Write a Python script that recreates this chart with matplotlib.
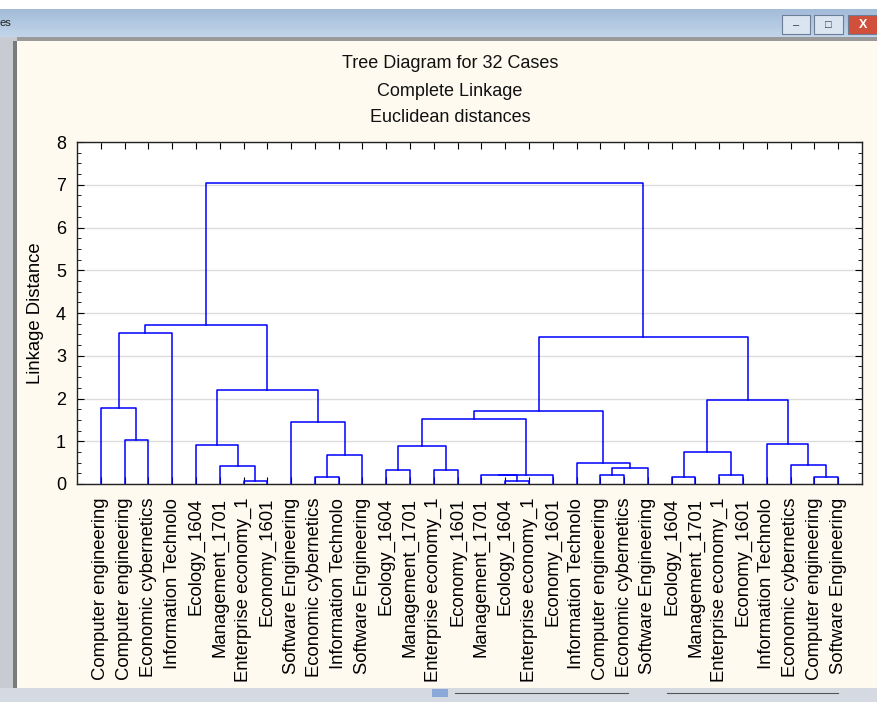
import numpy as np
import matplotlib.pyplot as plt
from matplotlib.patches import Rectangle
from matplotlib.ticker import MultipleLocator

plt.rcParams['font.family'] = ['Liberation Sans', 'DejaVu Sans']

labels = [
    'Computer engineering', 'Computer engineering', 'Economic cybernetics', 'Information Technolo',
    'Ecology_1604', 'Management_1701', 'Enterprise economy_1', 'Economy_1601',
    'Software Engineering', 'Economic cybernetics', 'Information Technolo', 'Software Engineering',
    'Ecology_1604', 'Management_1701', 'Enterprise economy_1', 'Economy_1601',
    'Management_1701', 'Ecology_1604', 'Enterprise economy_1', 'Economy_1601',
    'Information Technolo', 'Computer engineering', 'Economic cybernetics', 'Software Engineering',
    'Ecology_1604', 'Management_1701', 'Enterprise economy_1', 'Economy_1601',
    'Information Technolo', 'Economic cybernetics', 'Computer engineering', 'Software Engineering',
]

# merges: (left, right, linkage distance); ids >= 32 are earlier merges (32 + index)
merges = [
    (6, 7, 0.07),     # 32
    (5, 32, 0.41),    # 33
    (4, 33, 0.91),    # 34
    (9, 10, 0.16),    # 35
    (35, 11, 0.67),   # 36
    (8, 36, 1.46),    # 37
    (34, 37, 2.20),   # 38
    (1, 2, 1.03),     # 39
    (0, 39, 1.78),    # 40
    (40, 3, 3.53),    # 41
    (41, 38, 3.72),   # 42
    (12, 13, 0.32),   # 43
    (14, 15, 0.32),   # 44
    (43, 44, 0.90),   # 45
    (17, 18, 0.06),   # 46
    (16, 46, 0.20),   # 47
    (47, 19, 0.22),   # 48
    (45, 48, 1.52),   # 49
    (21, 22, 0.20),   # 50
    (50, 23, 0.37),   # 51
    (20, 51, 0.49),   # 52
    (49, 52, 1.71),   # 53
    (24, 25, 0.16),   # 54
    (26, 27, 0.20),   # 55
    (54, 55, 0.76),   # 56
    (30, 31, 0.16),   # 57
    (29, 57, 0.45),   # 58
    (28, 58, 0.93),   # 59
    (56, 59, 1.97),   # 60
    (53, 60, 3.43),   # 61
    (42, 61, 7.05),   # 62
]

title_lines = ['Tree Diagram for 32 Cases', 'Complete Linkage', 'Euclidean distances']

W, H = 878, 702
fig = plt.figure(figsize=(W / 100, H / 100), dpi=100)
fig.patch.set_facecolor('#fefaef')

def px_rect(x0, y0, x1, y1, **kw):
    # rectangle in pixel coords (origin top-left)
    fig.patches.append(Rectangle((x0 / W, 1 - y1 / H), (x1 - x0) / W, (y1 - y0) / H,
                                 transform=fig.transFigure, figure=fig, **kw))

# window chrome
px_rect(0, 0, W, 9, facecolor='white', edgecolor='none')
bar = fig.add_axes([0, 1 - 37 / H, 1, 28 / H])
grad = np.linspace(0, 1, 50).reshape(-1, 1)
bar.imshow(grad, aspect='auto', cmap=plt.matplotlib.colors.LinearSegmentedColormap.from_list(
    'tb', ['#a3bcd8', '#c2d5ea']), extent=[0, 1, 0, 1])
bar.axis('off')
fig.text(0, 1 - 23 / H, 'es', fontsize=8, va='center', ha='left', color='#222222')
px_rect(0, 37, W, 41, facecolor='#9a9a9a', edgecolor='none')
px_rect(0, 37, 17, H, facecolor='#c8ccd2', edgecolor='none')
px_rect(13, 41, 17, 688, facecolor='#7a7a7a', edgecolor='none')
px_rect(0, 688, W, H, facecolor='#d5d9e2', edgecolor='none')
for bx0, bx1, col in [(782, 810, '#dbe5f2'), (814, 843, '#dbe5f2'), (848, 878, '#d0503c')]:
    px_rect(bx0, 15, bx1, 34, facecolor=col, edgecolor='#6d7d95', linewidth=0.8)
fig.text(796 / W, 1 - 25 / H, '\u2013', fontsize=8, ha='center', va='center', color='#333333')
fig.text(828 / W, 1 - 25 / H, '\u25a1', fontsize=8, ha='center', va='center', color='#333333')
fig.text(863 / W, 1 - 25 / H, 'X', fontsize=9, ha='center', va='center', color='white', weight='bold')
# status bar slider
fig.lines.append(plt.Line2D([455 / W, 628 / W], [1 - 693 / H] * 2, transform=fig.transFigure, color='#555555', lw=0.8))
fig.lines.append(plt.Line2D([667 / W, 838 / W], [1 - 693 / H] * 2, transform=fig.transFigure, color='#555555', lw=0.8))
px_rect(432, 689, 448, 697, facecolor='#8aa8d8', edgecolor='none')

# titles
for i, t in enumerate(title_lines):
    fig.text(450 / W, 1 - (64 + 27 * i) / H, t, fontsize=13, ha='center', va='center', color='#111111')

ax = fig.add_axes([77 / W, 1 - 484 / H, 785 / W, 342 / H])
ax.set_facecolor('white')

n = len(labels)
xpos = {i: float(i) for i in range(n)}
ypos = {i: 0.0 for i in range(n)}
for k, (a, b, h) in enumerate(merges):
    xa, xb = xpos[a], xpos[b]
    ax.plot([xa, xa, xb, xb], [ypos[a], h, h, ypos[b]], color='#0000ff', lw=1.1, zorder=3)
    xpos[n + k] = (xa + xb) / 2
    ypos[n + k] = h

ax.set_xlim(-1, n)
ax.set_ylim(0, 8)
ax.set_xticks(range(n))
ax.set_xticklabels(labels, rotation=90, fontsize=13.3)
ax.yaxis.set_major_locator(MultipleLocator(1))
ax.yaxis.set_minor_locator(MultipleLocator(0.25))
ax.tick_params(axis='y', which='major', direction='in', length=5, right=True, labelsize=13, pad=8)
ax.tick_params(axis='y', which='minor', direction='in', length=3, right=True)
ax.tick_params(axis='x', direction='in', length=5, top=True, pad=10)
ax.grid(axis='y', which='major', color='#dcdcdc', lw=1, zorder=0)
ax.set_axisbelow(True)
for s in ax.spines.values():
    s.set_color('#222222')
    s.set_linewidth(1)
fig.text(35 / W, 1 - 313 / H, 'Linkage Distance', rotation=90, fontsize=13.3, ha='center', va='center')

fig.savefig('out.png', dpi=100, facecolor=fig.get_facecolor())
